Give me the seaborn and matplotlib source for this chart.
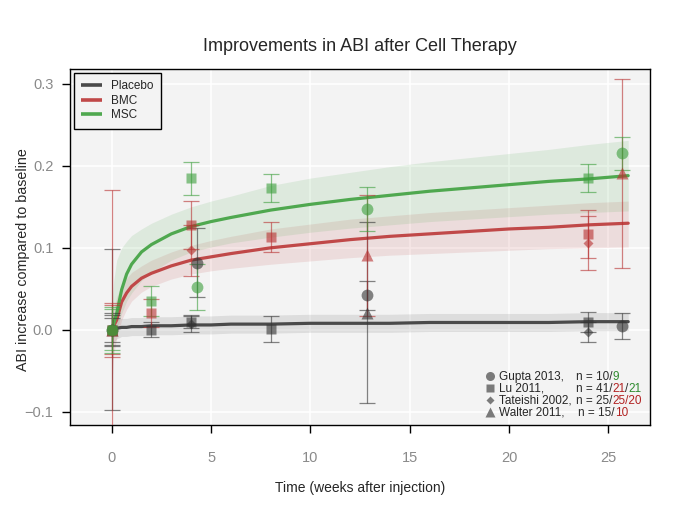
import numpy as np
import pandas as pd
import seaborn as sns
import matplotlib.pyplot as plt
from matplotlib.lines import Line2D

# fitted curves + confidence bands
t_fit = [0, 0.1, 0.25, 0.5, 0.75, 1, 1.5, 2, 3, 4, 5, 6, 8, 10, 12, 14, 16, 18, 20, 22, 24, 26]
placebo_fit = [0, 0.001, 0.002, 0.003, 0.003, 0.004, 0.004, 0.005, 0.005, 0.006, 0.006,
               0.007, 0.007, 0.008, 0.008, 0.008, 0.009, 0.009, 0.009, 0.009, 0.010, 0.010]
placebo_hi = [0.012, 0.012, 0.013, 0.014, 0.014, 0.015, 0.015, 0.016, 0.016, 0.017, 0.017,
              0.018, 0.018, 0.019, 0.019, 0.019, 0.020, 0.020, 0.020, 0.020, 0.021, 0.021]
placebo_lo = [-0.020, -0.015, -0.011, -0.008, -0.008, -0.007, -0.007, -0.006, -0.006, -0.005, -0.005,
              -0.004, -0.004, -0.003, -0.003, -0.003, -0.002, -0.002, -0.002, -0.002, -0.001, -0.001]
bmc_fit = [0, 0.005, 0.012, 0.034, 0.045, 0.053, 0.063, 0.069, 0.078, 0.085, 0.089,
           0.093, 0.100, 0.105, 0.110, 0.114, 0.117, 0.120, 0.123, 0.125, 0.128, 0.130]
bmc_hi = [0.010, 0.025, 0.040, 0.055, 0.063, 0.070, 0.078, 0.085, 0.095, 0.103, 0.109,
          0.114, 0.123, 0.129, 0.135, 0.139, 0.143, 0.146, 0.149, 0.152, 0.155, 0.157]
bmc_lo = [-0.070, -0.030, -0.010, 0.012, 0.025, 0.035, 0.046, 0.053, 0.062, 0.068, 0.072,
          0.075, 0.080, 0.084, 0.088, 0.091, 0.093, 0.095, 0.097, 0.099, 0.100, 0.101]
msc_fit = [0, 0.008, 0.020, 0.049, 0.068, 0.080, 0.095, 0.104, 0.117, 0.126, 0.132,
           0.137, 0.146, 0.153, 0.159, 0.164, 0.169, 0.173, 0.177, 0.181, 0.184, 0.188]
msc_hi = [0.030, 0.060, 0.085, 0.100, 0.108, 0.115, 0.123, 0.130, 0.141, 0.150, 0.157,
          0.163, 0.176, 0.185, 0.192, 0.199, 0.205, 0.210, 0.215, 0.220, 0.226, 0.231]
msc_lo = [-0.020, -0.010, 0.000, 0.020, 0.035, 0.045, 0.060, 0.070, 0.085, 0.095, 0.101,
          0.106, 0.113, 0.119, 0.124, 0.128, 0.132, 0.135, 0.138, 0.141, 0.143, 0.145]

# study data: weeks, mean, error
gupta_wk = [0, 4.3, 12.86, 25.7]
gupta_pl = [0, 0.082, 0.042, 0.005]
gupta_pl_err = [0.020, 0.042, 0.018, 0.016]
gupta_msc = [0, 0.052, 0.147, 0.215]
gupta_msc_err = [0.025, 0.028, 0.027, 0.020]

lu_wk = [0, 2, 4, 8, 24]
lu_pl = [0, 0.000, 0.010, 0.001, 0.010]
lu_pl_err = [0.015, 0.009, 0.008, 0.016, 0.012]
lu_bmc = [0, 0.021, 0.128, 0.113, 0.117]
lu_bmc_err = [0.030, 0.017, 0.029, 0.018, 0.029]
lu_msc = [0, 0.035, 0.185, 0.173, 0.185]
lu_msc_err = [0.028, 0.018, 0.020, 0.017, 0.017]

tat_wk = [0, 4, 24]
tat_pl = [0, 0.007, -0.003]
tat_pl_err = [0.018, 0.010, 0.012]
tat_bmc = [0, 0.097, 0.106]
tat_bmc_err = [0.033, 0.031, 0.033]

wal_pl_wk = [0, 12.86]
wal_pl = [0, 0.021]
wal_pl_err = [0.098, 0.110]
wal_bmc_wk = [0, 12.86, 25.7]
wal_bmc = [0, 0.091, 0.191]
wal_bmc_err = [0.171, 0.074, 0.115]

groups = ['Placebo', 'BMC', 'MSC']
line_col = {'Placebo': '#4a4a4a', 'BMC': '#c04848', 'MSC': '#4fa84f'}
pt_col = {'Placebo': '#333333', 'BMC': '#b83030', 'MSC': '#3c9e3c'}

sns.set_style('whitegrid', {'axes.facecolor': '#f3f3f3', 'grid.color': 'white',
                            'axes.edgecolor': 'black'})
plt.rcParams['font.family'] = ['Liberation Sans', 'DejaVu Sans']

fig = plt.figure(figsize=(6.85, 5.13), dpi=100)
ax = fig.add_axes([0.1022, 0.1715, 0.8468, 0.694])

# bands
bands = {'Placebo': (placebo_lo, placebo_hi), 'BMC': (bmc_lo, bmc_hi), 'MSC': (msc_lo, msc_hi)}
for g in groups:
    lo, hi = bands[g]
    ax.fill_between(t_fit, lo, hi, color=line_col[g], alpha=0.13, lw=0, zorder=1)

fit_df = pd.DataFrame({
    'week': t_fit * 3,
    'abi': placebo_fit + bmc_fit + msc_fit,
    'group': ['Placebo'] * len(t_fit) + ['BMC'] * len(t_fit) + ['MSC'] * len(t_fit),
})
sns.lineplot(data=fit_df, x='week', y='abi', hue='group', palette=line_col, lw=2.3,
             estimator=None, sort=False, legend=False, ax=ax, zorder=2)

# points with error bars
studies = [
    ('o', 8.5, 'Placebo', gupta_wk, gupta_pl, gupta_pl_err),
    ('s', 7.5, 'Placebo', lu_wk, lu_pl, lu_pl_err),
    ('D', 5, 'Placebo', tat_wk, tat_pl, tat_pl_err),
    ('^', 8.5, 'Placebo', wal_pl_wk, wal_pl, wal_pl_err),
    ('s', 7.5, 'BMC', lu_wk, lu_bmc, lu_bmc_err),
    ('D', 5, 'BMC', tat_wk, tat_bmc, tat_bmc_err),
    ('^', 8.5, 'BMC', wal_bmc_wk, wal_bmc, wal_bmc_err),
    ('o', 8.5, 'MSC', gupta_wk, gupta_msc, gupta_msc_err),
    ('s', 7.5, 'MSC', lu_wk, lu_msc, lu_msc_err),
]
for m, ms, g, wk, val, err in studies:
    ax.errorbar(wk, val, yerr=err, fmt=m, ms=ms, mfc=pt_col[g], mec='none',
                ecolor=pt_col[g], elinewidth=0.9, capsize=5.5, capthick=0.9,
                alpha=0.6, zorder=3)

ax.set_xlim(-2.1, 27.1)
ax.set_ylim(-0.116, 0.318)
ax.set_xticks([0, 5, 10, 15, 20, 25])
ax.set_yticks([-0.1, 0.0, 0.1, 0.2, 0.3])
ax.grid(True, color='white', lw=1.2)
for s in ax.spines.values():
    s.set_color('black')
    s.set_linewidth(1.0)
ax.tick_params(axis='both', direction='out', length=6, width=1, color='black',
               labelcolor='#8a8a8a', labelsize=10.5, bottom=True, left=True)
ax.tick_params(axis='x', pad=12.5)
ax.tick_params(axis='y', pad=6)

ax.set_title('Improvements in ABI after Cell Therapy', fontsize=13, pad=13)
ax.set_xlabel('Time (weeks after injection)', fontsize=10, labelpad=12)
ax.set_ylabel('ABI increase compared to baseline', fontsize=10.3)
ax.yaxis.set_label_coords(-0.069, 0.466)

# group legend
h1 = [Line2D([], [], color=line_col[g], lw=2.6, solid_capstyle='butt') for g in groups]
leg1 = ax.legend(h1, groups, loc='upper left', bbox_to_anchor=(0.007, 0.989),
                 borderaxespad=0, fontsize=8.5, frameon=True, fancybox=False,
                 edgecolor='black', facecolor='#f3f3f3', framealpha=1,
                 handlelength=1.75, handletextpad=0.75, labelspacing=0.22, borderpad=0.62)
leg1.get_frame().set_linewidth(1.0)
ax.add_artist(leg1)

# study legend
study_names = ['Gupta 2013,', 'Lu 2011,', 'Tateishi 2002,', 'Walter 2011,']
study_markers = [('o', 6.5), ('s', 5.5), ('D', 4), ('^', 6.5)]
h2 = [Line2D([], [], ls='none', marker=m, ms=s, color='#7a7a7a', mec='none')
      for m, s in study_markers]
leg2 = ax.legend(h2, study_names, loc='lower left', bbox_to_anchor=(0.7155, 0.017),
                 borderaxespad=0, borderpad=0, frameon=False, fontsize=8.5,
                 handlelength=0.8, handletextpad=0.4, labelspacing=0.0)

dark = '#2b2b2b'
red = '#b22222'
green = '#2e8b2e'
n_parts = [
    [('n = 10/', dark), ('9', green)],
    [('n = 41/', dark), ('21', red), ('/', dark), ('21', green)],
    [('n = 25/', dark), ('25/20', red)],
    [('n = 15/', dark), ('10', red)],
]
n_x = [0.872, 0.872, 0.872, 0.876]
for txt, parts, nx in zip(leg2.get_texts(), n_parts, n_x):
    prev = None
    for piece, col in parts:
        if prev is None:
            prev = ax.annotate(piece, xy=(nx, 0), xycoords=('axes fraction', txt),
                               va='bottom', ha='left', fontsize=8.5, color=col, zorder=6)
        else:
            prev = ax.annotate(piece, xy=(1, 0), xycoords=prev,
                               va='bottom', ha='left', fontsize=8.5, color=col, zorder=6)

fig.savefig('out.png', dpi=100)
